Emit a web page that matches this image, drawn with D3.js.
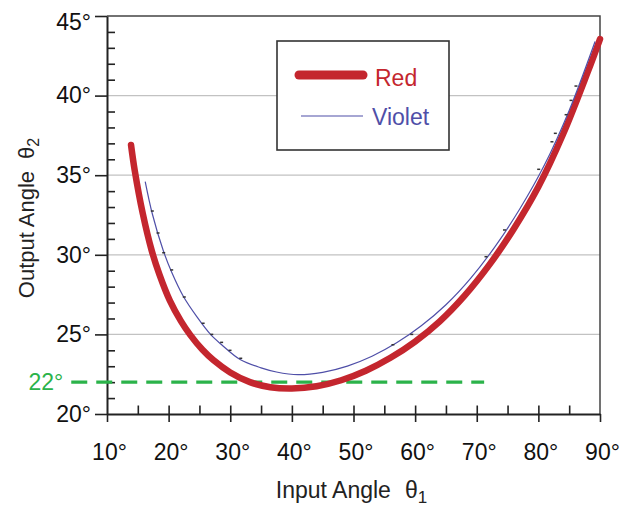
<!DOCTYPE html>
<html>
<head>
<meta charset="utf-8">
<script src="https://cdn.jsdelivr.net/npm/d3@7/dist/d3.min.js"></script>
<style>
  body { margin: 0; background: #fff; }
  svg text { font-family: "Liberation Sans", Arial, Helvetica, sans-serif; }
</style>
</head>
<body>
<div id="chart"></div>
<script>
// input angle θ1 (deg) -> output angle θ2 (deg)
const redInput  = [13.9, 14.5, 15.8, 17.25, 18.5, 20.2, 22.0, 23.5, 25.5, 27.3, 30.0, 33.2, 36.5, 40.0, 44.0, 48.0, 52.0, 56.0, 60.0, 64.0, 68.0, 72.0, 76.0, 80.0, 84.0, 88.0, 90.0];
const redOutput = [36.9, 35.3, 32.6, 30.27, 28.77, 27.12, 25.83, 24.97, 24.03, 23.37, 22.61, 22.0, 21.68, 21.6, 21.74, 22.12, 22.72, 23.53, 24.55, 25.82, 27.42, 29.35, 31.62, 34.27, 37.57, 41.47, 43.55];

const violetInput  = [16.2, 17.35, 19.1, 20.5, 22.4, 24.6, 26.8, 28.6, 31.6, 35.0, 37.5, 41.0, 45.0, 49.0, 53.0, 57.0, 61.0, 65.0, 69.0, 73.0, 77.0, 81.0, 85.0, 89.2];
const violetOutput = [34.6, 32.58, 30.3, 28.9, 27.38, 26.1, 25.0, 24.35, 23.42, 22.9, 22.64, 22.47, 22.62, 23.01, 23.63, 24.47, 25.54, 26.86, 28.52, 30.53, 32.89, 35.65, 39.07, 43.4];

// small measured-point marks along the violet curve
const markInput  = [17.35, 18.28, 19.2, 20.5, 22.54, 25.6, 27.0, 28.6, 29.96, 31.7, 56.4, 59.45, 71.5, 74.5, 80.05, 82.2, 82.75, 84.5, 85.3, 86.1];
const markOutput = [32.75, 31.37, 30.13, 29.05, 27.35, 25.7, 25.0, 24.5, 24.0, 23.5, 24.35, 25.0, 29.88, 31.56, 35.37, 37.1, 37.63, 38.8, 39.7, 40.6];

const guideValue = 22;
const guideRange = [4.2, 71.2];

const xTicks = [10, 20, 30, 40, 50, 60, 70, 80, 90];
const xMinorTicks = [15, 20, 25, 30, 35, 40, 45, 50, 55, 60, 65, 70, 75, 80, 85];
const yTicks = [20, 25, 30, 35, 40, 45];
const yMinorTicks = d3.range(21, 45).filter(d => d % 5 !== 0);
const gridTicks = [25, 30, 35, 40];

const seriesNames = ["Red", "Violet"];
const seriesColors = ["#c4262e", "#4f4fa8"];

const width = 636, height = 506;
const margin = { top: 16, right: 36, bottom: 92, left: 107 };

let svg = d3.select("#chart")
  .append("svg")
  .attr("width", width)
  .attr("height", height);

let x = d3.scaleLinear().domain([10, 90]).range([margin.left, width - margin.right]);
let y = d3.scaleLinear().domain([20, 45]).range([height - margin.bottom, margin.top]);

// gridlines
svg.append("g")
  .selectAll("line")
  .data(gridTicks)
  .join("line")
  .attr("x1", x(10)).attr("x2", x(90))
  .attr("y1", d => y(d)).attr("y2", d => y(d))
  .attr("stroke", "#c2c2c2")
  .attr("stroke-width", 1.3);

// frame top + right
svg.append("path")
  .attr("d", `M${x(10)},${y(45)}H${x(90)}V${y(20)}`)
  .attr("fill", "none")
  .attr("stroke", "#444")
  .attr("stroke-width", 1.5);

// y axis
let yAxis = svg.append("g")
  .attr("transform", `translate(${x(10)},0)`)
  .call(d3.axisLeft(y).tickValues(yTicks).tickSize(12).tickSizeOuter(0).tickPadding(4).tickFormat(d => d + "°"));
yAxis.append("g")
  .call(d3.axisLeft(y).tickValues(yMinorTicks).tickSize(-8).tickSizeOuter(0).tickFormat(""))
  .select(".domain").remove();
yAxis.selectAll("text").attr("font-size", 23).attr("fill", "#111");
yAxis.selectAll("text").filter(d => d === 45).attr("dy", "0.6em");

// x axis
let xAxis = svg.append("g")
  .attr("transform", `translate(0,${y(20)})`)
  .call(d3.axisBottom(x).tickValues(xTicks).tickSize(8).tickSizeOuter(0).tickPadding(22).tickFormat(d => d + "°"));
xAxis.append("g")
  .call(d3.axisBottom(x).tickValues(xMinorTicks).tickSize(-8.5).tickSizeOuter(0).tickFormat(""))
  .select(".domain").remove();
xAxis.selectAll("text").attr("font-size", 23).attr("fill", "#111").attr("dx", 2);

svg.selectAll(".domain").attr("stroke", "#222").attr("stroke-width", 2);
svg.selectAll(".tick line").attr("stroke", "#222").attr("stroke-width", 1.6);

// 22° guide
svg.append("line")
  .attr("x1", x(guideRange[0])).attr("x2", x(guideRange[1]))
  .attr("y1", y(guideValue)).attr("y2", y(guideValue))
  .attr("stroke", "#2bb34a")
  .attr("stroke-width", 3.4)
  .attr("stroke-dasharray", "16 9");
svg.append("text")
  .attr("x", x(guideRange[0]) - 8)
  .attr("y", y(guideValue))
  .attr("dy", "0.35em")
  .attr("text-anchor", "end")
  .attr("font-size", 23)
  .attr("fill", "#2bb34a")
  .text(guideValue + "°");

// curves
let line = d3.line()
  .x(d => x(d[0]))
  .y(d => y(d[1]))
  .curve(d3.curveCatmullRom.alpha(0.5));

let redData = d3.zip(redInput, redOutput);
let violetData = d3.zip(violetInput, violetOutput);

svg.append("path")
  .datum(redData)
  .attr("d", line)
  .attr("fill", "none")
  .attr("stroke", seriesColors[0])
  .attr("stroke-width", 6.5)
  .attr("stroke-linecap", "round");

svg.append("path")
  .datum(violetData)
  .attr("d", line)
  .attr("fill", "none")
  .attr("stroke", seriesColors[1])
  .attr("stroke-width", 1.2);

svg.append("g")
  .selectAll("rect")
  .data(d3.zip(markInput, markOutput))
  .join("rect")
  .attr("x", d => x(d[0]) - 1.5)
  .attr("y", d => y(d[1]) - 0.75)
  .attr("width", 3)
  .attr("height", 1.5)
  .attr("fill", "#333");

// legend
let legend = svg.append("g").attr("transform", "translate(277,41)");
legend.append("rect")
  .attr("width", 172).attr("height", 109)
  .attr("fill", "#fff")
  .attr("stroke", "#333")
  .attr("stroke-width", 1.6);

let items = legend.selectAll(".item")
  .data(seriesNames)
  .join("g")
  .attr("class", "item")
  .attr("transform", (d, i) => `translate(0,${i === 0 ? 34 : 75})`);
items.append("line")
  .attr("x1", (d, i) => i === 0 ? 22 : 24).attr("x2", 86)
  .attr("stroke", (d, i) => seriesColors[i])
  .attr("stroke-width", (d, i) => i === 0 ? 9 : 1.2)
  .attr("stroke-linecap", (d, i) => i === 0 ? "round" : "butt");
items.append("text")
  .attr("x", (d, i) => i === 0 ? 98 : 95)
  .attr("y", (d, i) => i === 0 ? 11 : 9)
  .attr("font-size", 23)
  .attr("fill", (d, i) => seriesColors[i])
  .text(d => d);

// axis titles
let xTitle = svg.append("text")
  .attr("x", (x(10) + x(90)) / 2 - 2)
  .attr("y", 498)
  .attr("text-anchor", "middle")
  .attr("font-size", 23)
  .attr("fill", "#222")
  .text("Input Angle");
xTitle.append("tspan").attr("dx", 14).text("θ");
xTitle.append("tspan").attr("font-size", 17).attr("dy", 5).text("1");

let yTitle = svg.append("text")
  .attr("transform", `translate(34,${(y(20) + y(45)) / 2 + 3}) rotate(-90)`)
  .attr("text-anchor", "middle")
  .attr("font-size", 22)
  .attr("fill", "#222")
  .text("Output Angle");
yTitle.append("tspan").attr("dx", 12).text("θ");
yTitle.append("tspan").attr("font-size", 16).attr("dy", 5).text("2");
</script>
</body>
</html>
